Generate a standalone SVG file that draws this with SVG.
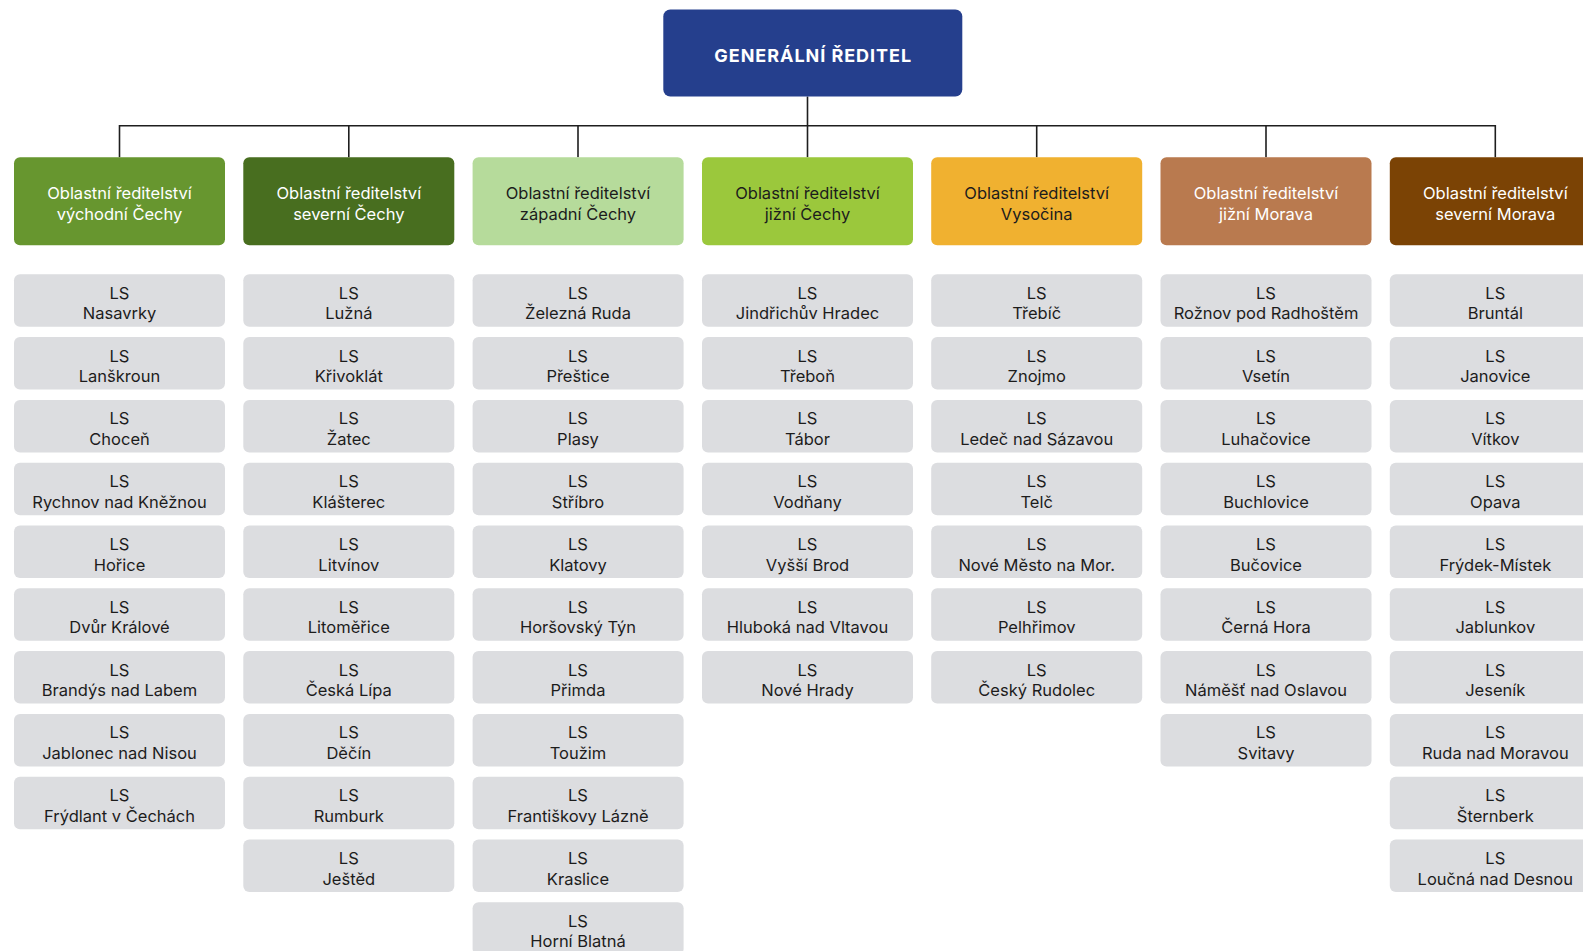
<svg xmlns="http://www.w3.org/2000/svg" width="1583" height="951" viewBox="0 0 1583 951">
<style>
.gr{fill:#253f8d}
.ls{fill:#dcdde0}
.t{font-family:Inter,"Liberation Sans",sans-serif;text-anchor:middle}
.lt{font-size:16.5px;fill:#1c1c1c}
.rt{font-size:16.5px}
.w{fill:#ffffff}
.d{fill:#1c1c1c}
.c{fill:none;stroke:#1e1e1e;stroke-width:1.6}
</style>
<rect width="1583" height="951" fill="#ffffff"/>
<g id="connectors">
<path class="c" d="M807.5 96.5V125.7M119.5 157.3V125.7H1495.3V157.3M348.8 125.7V157.3M578 125.7V157.3M807.5 125.7V157.3M1036.7 125.7V157.3M1266 125.7V157.3"/>
</g>
<g id="gr">
<rect class="gr" x="663.3" y="9.5" width="299" height="87" rx="7"/>
<text class="t w" x="813.2" y="61.8" font-size="18" font-weight="700" letter-spacing="0.95">GENERÁLNÍ ŘEDITEL</text>
</g>
<g id="r1"><rect x="14" y="157.3" width="211" height="88" rx="6" fill="#67962f"/><text class="t rt w" x="119.5" y="199.3">Oblastní ředitelství</text><text class="t rt w" x="119.5" y="220">východní Čechy</text></g>
<g id="r2"><rect x="243.3" y="157.3" width="211" height="88" rx="6" fill="#486e1f"/><text class="t rt w" x="348.8" y="199.3">Oblastní ředitelství</text><text class="t rt w" x="348.8" y="220">severní Čechy</text></g>
<g id="r3"><rect x="472.6" y="157.3" width="211" height="88" rx="6" fill="#b6db9b"/><text class="t rt d" x="578" y="199.3">Oblastní ředitelství</text><text class="t rt d" x="578" y="220">západní Čechy</text></g>
<g id="r4"><rect x="702" y="157.3" width="211" height="88" rx="6" fill="#9bc83c"/><text class="t rt d" x="807.5" y="199.3">Oblastní ředitelství</text><text class="t rt d" x="807.5" y="220">jižní Čechy</text></g>
<g id="r5"><rect x="931.2" y="157.3" width="211" height="88" rx="6" fill="#f0b130"/><text class="t rt d" x="1036.7" y="199.3">Oblastní ředitelství</text><text class="t rt d" x="1036.7" y="220">Vysočina</text></g>
<g id="r6"><rect x="1160.5" y="157.3" width="211" height="88" rx="6" fill="#b97a4f"/><text class="t rt w" x="1266" y="199.3">Oblastní ředitelství</text><text class="t rt w" x="1266" y="220">jižní Morava</text></g>
<g id="r7"><rect x="1389.8" y="157.3" width="211" height="88" rx="6" fill="#7b4305"/><text class="t rt w" x="1495.3" y="199.3">Oblastní ředitelství</text><text class="t rt w" x="1495.3" y="220">severní Morava</text></g>

<g id="c1">
<g id="c1-0"><rect class="ls" x="14" y="274.3" width="211" height="52.5" rx="6"/><text class="t lt" x="119.5" y="298.8">LS</text><text class="t lt" x="119.5" y="319.3">Nasavrky</text></g>
<g id="c1-1"><rect class="ls" x="14" y="337.1" width="211" height="52.5" rx="6"/><text class="t lt" x="119.5" y="361.6">LS</text><text class="t lt" x="119.5" y="382.1">Lanškroun</text></g>
<g id="c1-2"><rect class="ls" x="14" y="399.9" width="211" height="52.5" rx="6"/><text class="t lt" x="119.5" y="424.4">LS</text><text class="t lt" x="119.5" y="444.9">Choceň</text></g>
<g id="c1-3"><rect class="ls" x="14" y="462.7" width="211" height="52.5" rx="6"/><text class="t lt" x="119.5" y="487.2">LS</text><text class="t lt" x="119.5" y="507.7">Rychnov nad Kněžnou</text></g>
<g id="c1-4"><rect class="ls" x="14" y="525.5" width="211" height="52.5" rx="6"/><text class="t lt" x="119.5" y="550">LS</text><text class="t lt" x="119.5" y="570.5">Hořice</text></g>
<g id="c1-5"><rect class="ls" x="14" y="588.3" width="211" height="52.5" rx="6"/><text class="t lt" x="119.5" y="612.8">LS</text><text class="t lt" x="119.5" y="633.3">Dvůr Králové</text></g>
<g id="c1-6"><rect class="ls" x="14" y="651.1" width="211" height="52.5" rx="6"/><text class="t lt" x="119.5" y="675.6">LS</text><text class="t lt" x="119.5" y="696.1">Brandýs nad Labem</text></g>
<g id="c1-7"><rect class="ls" x="14" y="713.9" width="211" height="52.5" rx="6"/><text class="t lt" x="119.5" y="738.4">LS</text><text class="t lt" x="119.5" y="758.9">Jablonec nad Nisou</text></g>
<g id="c1-8"><rect class="ls" x="14" y="776.7" width="211" height="52.5" rx="6"/><text class="t lt" x="119.5" y="801.2">LS</text><text class="t lt" x="119.5" y="821.7">Frýdlant v Čechách</text></g>
</g>

<g id="c2">
<g id="c2-0"><rect class="ls" x="243.3" y="274.3" width="211" height="52.5" rx="6"/><text class="t lt" x="348.8" y="298.8">LS</text><text class="t lt" x="348.8" y="319.3">Lužná</text></g>
<g id="c2-1"><rect class="ls" x="243.3" y="337.1" width="211" height="52.5" rx="6"/><text class="t lt" x="348.8" y="361.6">LS</text><text class="t lt" x="348.8" y="382.1">Křivoklát</text></g>
<g id="c2-2"><rect class="ls" x="243.3" y="399.9" width="211" height="52.5" rx="6"/><text class="t lt" x="348.8" y="424.4">LS</text><text class="t lt" x="348.8" y="444.9">Žatec</text></g>
<g id="c2-3"><rect class="ls" x="243.3" y="462.7" width="211" height="52.5" rx="6"/><text class="t lt" x="348.8" y="487.2">LS</text><text class="t lt" x="348.8" y="507.7">Klášterec</text></g>
<g id="c2-4"><rect class="ls" x="243.3" y="525.5" width="211" height="52.5" rx="6"/><text class="t lt" x="348.8" y="550">LS</text><text class="t lt" x="348.8" y="570.5">Litvínov</text></g>
<g id="c2-5"><rect class="ls" x="243.3" y="588.3" width="211" height="52.5" rx="6"/><text class="t lt" x="348.8" y="612.8">LS</text><text class="t lt" x="348.8" y="633.3">Litoměřice</text></g>
<g id="c2-6"><rect class="ls" x="243.3" y="651.1" width="211" height="52.5" rx="6"/><text class="t lt" x="348.8" y="675.6">LS</text><text class="t lt" x="348.8" y="696.1">Česká Lípa</text></g>
<g id="c2-7"><rect class="ls" x="243.3" y="713.9" width="211" height="52.5" rx="6"/><text class="t lt" x="348.8" y="738.4">LS</text><text class="t lt" x="348.8" y="758.9">Děčín</text></g>
<g id="c2-8"><rect class="ls" x="243.3" y="776.7" width="211" height="52.5" rx="6"/><text class="t lt" x="348.8" y="801.2">LS</text><text class="t lt" x="348.8" y="821.7">Rumburk</text></g>
<g id="c2-9"><rect class="ls" x="243.3" y="839.5" width="211" height="52.5" rx="6"/><text class="t lt" x="348.8" y="864">LS</text><text class="t lt" x="348.8" y="884.5">Ještěd</text></g>
</g>

<g id="c3">
<g id="c3-0"><rect class="ls" x="472.6" y="274.3" width="211" height="52.5" rx="6"/><text class="t lt" x="578" y="298.8">LS</text><text class="t lt" x="578" y="319.3">Železná Ruda</text></g>
<g id="c3-1"><rect class="ls" x="472.6" y="337.1" width="211" height="52.5" rx="6"/><text class="t lt" x="578" y="361.6">LS</text><text class="t lt" x="578" y="382.1">Přeštice</text></g>
<g id="c3-2"><rect class="ls" x="472.6" y="399.9" width="211" height="52.5" rx="6"/><text class="t lt" x="578" y="424.4">LS</text><text class="t lt" x="578" y="444.9">Plasy</text></g>
<g id="c3-3"><rect class="ls" x="472.6" y="462.7" width="211" height="52.5" rx="6"/><text class="t lt" x="578" y="487.2">LS</text><text class="t lt" x="578" y="507.7">Stříbro</text></g>
<g id="c3-4"><rect class="ls" x="472.6" y="525.5" width="211" height="52.5" rx="6"/><text class="t lt" x="578" y="550">LS</text><text class="t lt" x="578" y="570.5">Klatovy</text></g>
<g id="c3-5"><rect class="ls" x="472.6" y="588.3" width="211" height="52.5" rx="6"/><text class="t lt" x="578" y="612.8">LS</text><text class="t lt" x="578" y="633.3">Horšovský Týn</text></g>
<g id="c3-6"><rect class="ls" x="472.6" y="651.1" width="211" height="52.5" rx="6"/><text class="t lt" x="578" y="675.6">LS</text><text class="t lt" x="578" y="696.1">Přimda</text></g>
<g id="c3-7"><rect class="ls" x="472.6" y="713.9" width="211" height="52.5" rx="6"/><text class="t lt" x="578" y="738.4">LS</text><text class="t lt" x="578" y="758.9">Toužim</text></g>
<g id="c3-8"><rect class="ls" x="472.6" y="776.7" width="211" height="52.5" rx="6"/><text class="t lt" x="578" y="801.2">LS</text><text class="t lt" x="578" y="821.7">Františkovy Lázně</text></g>
<g id="c3-9"><rect class="ls" x="472.6" y="839.5" width="211" height="52.5" rx="6"/><text class="t lt" x="578" y="864">LS</text><text class="t lt" x="578" y="884.5">Kraslice</text></g>
<g id="c3-10"><rect class="ls" x="472.6" y="902.3" width="211" height="52.5" rx="6"/><text class="t lt" x="578" y="926.8">LS</text><text class="t lt" x="578" y="947.3">Horní Blatná</text></g>
</g>

<g id="c4">
<g id="c4-0"><rect class="ls" x="702" y="274.3" width="211" height="52.5" rx="6"/><text class="t lt" x="807.5" y="298.8">LS</text><text class="t lt" x="807.5" y="319.3">Jindřichův Hradec</text></g>
<g id="c4-1"><rect class="ls" x="702" y="337.1" width="211" height="52.5" rx="6"/><text class="t lt" x="807.5" y="361.6">LS</text><text class="t lt" x="807.5" y="382.1">Třeboň</text></g>
<g id="c4-2"><rect class="ls" x="702" y="399.9" width="211" height="52.5" rx="6"/><text class="t lt" x="807.5" y="424.4">LS</text><text class="t lt" x="807.5" y="444.9">Tábor</text></g>
<g id="c4-3"><rect class="ls" x="702" y="462.7" width="211" height="52.5" rx="6"/><text class="t lt" x="807.5" y="487.2">LS</text><text class="t lt" x="807.5" y="507.7">Vodňany</text></g>
<g id="c4-4"><rect class="ls" x="702" y="525.5" width="211" height="52.5" rx="6"/><text class="t lt" x="807.5" y="550">LS</text><text class="t lt" x="807.5" y="570.5">Vyšší Brod</text></g>
<g id="c4-5"><rect class="ls" x="702" y="588.3" width="211" height="52.5" rx="6"/><text class="t lt" x="807.5" y="612.8">LS</text><text class="t lt" x="807.5" y="633.3">Hluboká nad Vltavou</text></g>
<g id="c4-6"><rect class="ls" x="702" y="651.1" width="211" height="52.5" rx="6"/><text class="t lt" x="807.5" y="675.6">LS</text><text class="t lt" x="807.5" y="696.1">Nové Hrady</text></g>
</g>

<g id="c5">
<g id="c5-0"><rect class="ls" x="931.2" y="274.3" width="211" height="52.5" rx="6"/><text class="t lt" x="1036.7" y="298.8">LS</text><text class="t lt" x="1036.7" y="319.3">Třebíč</text></g>
<g id="c5-1"><rect class="ls" x="931.2" y="337.1" width="211" height="52.5" rx="6"/><text class="t lt" x="1036.7" y="361.6">LS</text><text class="t lt" x="1036.7" y="382.1">Znojmo</text></g>
<g id="c5-2"><rect class="ls" x="931.2" y="399.9" width="211" height="52.5" rx="6"/><text class="t lt" x="1036.7" y="424.4">LS</text><text class="t lt" x="1036.7" y="444.9">Ledeč nad Sázavou</text></g>
<g id="c5-3"><rect class="ls" x="931.2" y="462.7" width="211" height="52.5" rx="6"/><text class="t lt" x="1036.7" y="487.2">LS</text><text class="t lt" x="1036.7" y="507.7">Telč</text></g>
<g id="c5-4"><rect class="ls" x="931.2" y="525.5" width="211" height="52.5" rx="6"/><text class="t lt" x="1036.7" y="550">LS</text><text class="t lt" x="1036.7" y="570.5">Nové Město na Mor.</text></g>
<g id="c5-5"><rect class="ls" x="931.2" y="588.3" width="211" height="52.5" rx="6"/><text class="t lt" x="1036.7" y="612.8">LS</text><text class="t lt" x="1036.7" y="633.3">Pelhřimov</text></g>
<g id="c5-6"><rect class="ls" x="931.2" y="651.1" width="211" height="52.5" rx="6"/><text class="t lt" x="1036.7" y="675.6">LS</text><text class="t lt" x="1036.7" y="696.1">Český Rudolec</text></g>
</g>

<g id="c6">
<g id="c6-0"><rect class="ls" x="1160.5" y="274.3" width="211" height="52.5" rx="6"/><text class="t lt" x="1266" y="298.8">LS</text><text class="t lt" x="1266" y="319.3">Rožnov pod Radhoštěm</text></g>
<g id="c6-1"><rect class="ls" x="1160.5" y="337.1" width="211" height="52.5" rx="6"/><text class="t lt" x="1266" y="361.6">LS</text><text class="t lt" x="1266" y="382.1">Vsetín</text></g>
<g id="c6-2"><rect class="ls" x="1160.5" y="399.9" width="211" height="52.5" rx="6"/><text class="t lt" x="1266" y="424.4">LS</text><text class="t lt" x="1266" y="444.9">Luhačovice</text></g>
<g id="c6-3"><rect class="ls" x="1160.5" y="462.7" width="211" height="52.5" rx="6"/><text class="t lt" x="1266" y="487.2">LS</text><text class="t lt" x="1266" y="507.7">Buchlovice</text></g>
<g id="c6-4"><rect class="ls" x="1160.5" y="525.5" width="211" height="52.5" rx="6"/><text class="t lt" x="1266" y="550">LS</text><text class="t lt" x="1266" y="570.5">Bučovice</text></g>
<g id="c6-5"><rect class="ls" x="1160.5" y="588.3" width="211" height="52.5" rx="6"/><text class="t lt" x="1266" y="612.8">LS</text><text class="t lt" x="1266" y="633.3">Černá Hora</text></g>
<g id="c6-6"><rect class="ls" x="1160.5" y="651.1" width="211" height="52.5" rx="6"/><text class="t lt" x="1266" y="675.6">LS</text><text class="t lt" x="1266" y="696.1">Náměšť nad Oslavou</text></g>
<g id="c6-7"><rect class="ls" x="1160.5" y="713.9" width="211" height="52.5" rx="6"/><text class="t lt" x="1266" y="738.4">LS</text><text class="t lt" x="1266" y="758.9">Svitavy</text></g>
</g>

<g id="c7">
<g id="c7-0"><rect class="ls" x="1389.8" y="274.3" width="211" height="52.5" rx="6"/><text class="t lt" x="1495.3" y="298.8">LS</text><text class="t lt" x="1495.3" y="319.3">Bruntál</text></g>
<g id="c7-1"><rect class="ls" x="1389.8" y="337.1" width="211" height="52.5" rx="6"/><text class="t lt" x="1495.3" y="361.6">LS</text><text class="t lt" x="1495.3" y="382.1">Janovice</text></g>
<g id="c7-2"><rect class="ls" x="1389.8" y="399.9" width="211" height="52.5" rx="6"/><text class="t lt" x="1495.3" y="424.4">LS</text><text class="t lt" x="1495.3" y="444.9">Vítkov</text></g>
<g id="c7-3"><rect class="ls" x="1389.8" y="462.7" width="211" height="52.5" rx="6"/><text class="t lt" x="1495.3" y="487.2">LS</text><text class="t lt" x="1495.3" y="507.7">Opava</text></g>
<g id="c7-4"><rect class="ls" x="1389.8" y="525.5" width="211" height="52.5" rx="6"/><text class="t lt" x="1495.3" y="550">LS</text><text class="t lt" x="1495.3" y="570.5">Frýdek-Místek</text></g>
<g id="c7-5"><rect class="ls" x="1389.8" y="588.3" width="211" height="52.5" rx="6"/><text class="t lt" x="1495.3" y="612.8">LS</text><text class="t lt" x="1495.3" y="633.3">Jablunkov</text></g>
<g id="c7-6"><rect class="ls" x="1389.8" y="651.1" width="211" height="52.5" rx="6"/><text class="t lt" x="1495.3" y="675.6">LS</text><text class="t lt" x="1495.3" y="696.1">Jeseník</text></g>
<g id="c7-7"><rect class="ls" x="1389.8" y="713.9" width="211" height="52.5" rx="6"/><text class="t lt" x="1495.3" y="738.4">LS</text><text class="t lt" x="1495.3" y="758.9">Ruda nad Moravou</text></g>
<g id="c7-8"><rect class="ls" x="1389.8" y="776.7" width="211" height="52.5" rx="6"/><text class="t lt" x="1495.3" y="801.2">LS</text><text class="t lt" x="1495.3" y="821.7">Šternberk</text></g>
<g id="c7-9"><rect class="ls" x="1389.8" y="839.5" width="211" height="52.5" rx="6"/><text class="t lt" x="1495.3" y="864">LS</text><text class="t lt" x="1495.3" y="884.5">Loučná nad Desnou</text></g>
</g>
</svg>
